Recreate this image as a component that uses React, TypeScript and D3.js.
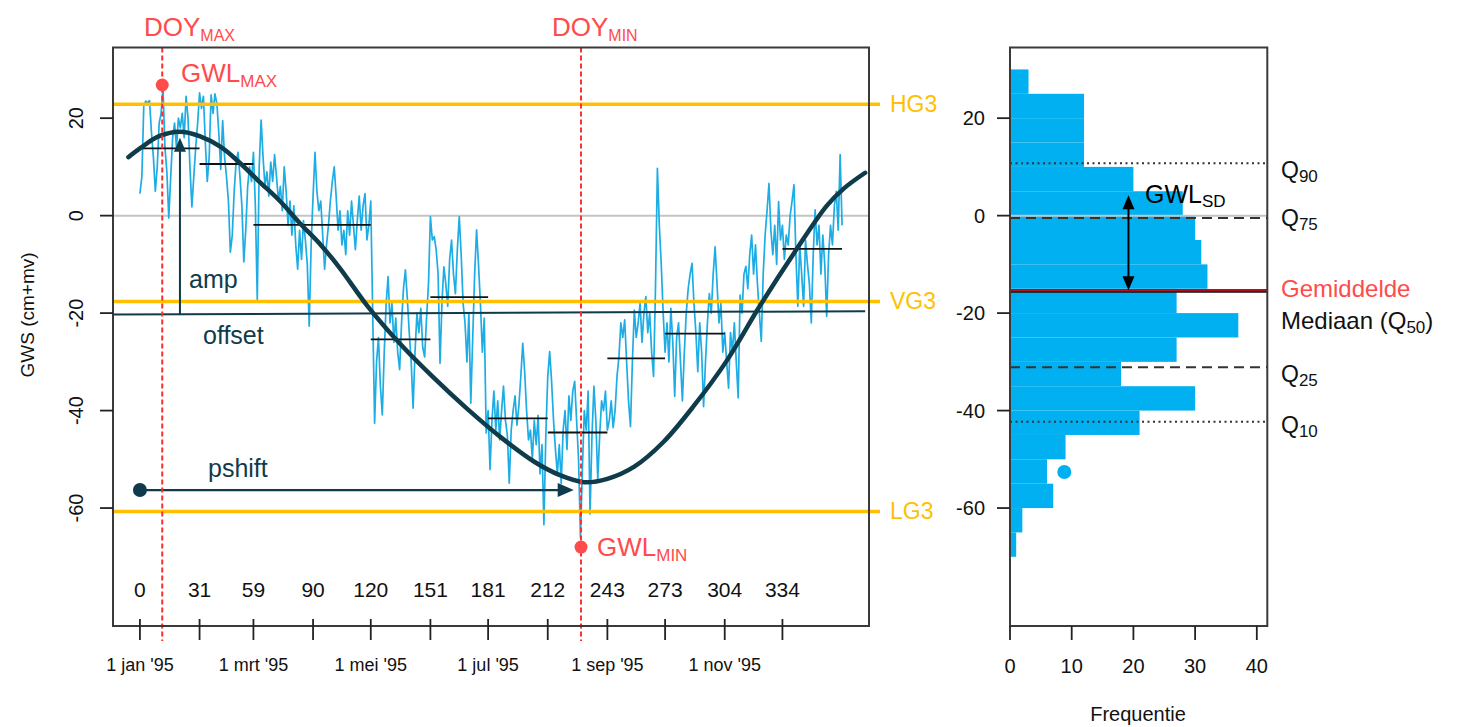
import React from "react";
import * as d3 from "d3";

// ---- data ----
const gwsDaily = [
  4.5, 8, 22.5, 23.5, 23.2, 23.6, 17, 12, 5, 10,
  19, 21, 26.2, 14, 9, -0.5, 8, 16, 19, 14,
  20, 18, 21, 16, 24.5, 20, 10, 1.8, 8, 14,
  19, 25.2, 22, 24.5, 15, 7, 12, 24.8, 21, 25,
  23, 17, 9.5, 19.5, 12, 8, 3, -7.5, -4, 5,
  11, 13, 8, 2, -9.5, -3, 6, 10, 7, 13,
  2, -17.3, 10, 19.6, 12, 6, 9, 4, 11, 7,
  12.5, 8, 3, 6, 1, 10, 5, -2, 3, -4,
  2, -6, -11, -3, -9, -1, -5, -10, -22.7, -6,
  4, 13, 5, 1, 3, -4, -11, -6, -2, 3,
  7, 10, 4, -3, 1, -6, -3, -8, 1, -4,
  3, -2, -7, -1, 4, -3, 2, 4.5, -5, -2,
  3, -20, -42.6, -30, -25, -35, -40.9, -28, -18, -12.5,
  -22, -18, -26, -21, -28, -31.6, -22, -15, -11.1, -17,
  -24, -30, -39.5, -28, -20, -24, -19, -27, -29, -21,
  -14, -0.2, -5, -4.3, -7, -12, -30.3, -18, -10.5, -14,
  -18.6, -9, -5, -12, -16, -7, -0.2, -8, -18, -22,
  -30, -20, -38.5, -25, -12, -2.9, -10, -18, -28, -21,
  -44.6, -40, -52.1, -42, -36, -44, -38, -46, -40, -35,
  -42, -45, -54.9, -44, -40, -37, -43, -39, -33, -26.2,
  -32, -40, -46, -44, -50, -42, -47, -41, -53, -47,
  -63.4, -45, -33, -27.9, -34, -42, -48, -53, -47, -55,
  -44, -40, -48, -37, -42, -36, -34, -42, -50, -66,
  -52, -40, -44, -36, -61.2, -45, -35, -42, -54.3, -45,
  -38, -40, -36, -44, -42, -38, -43.5, -40, -33, -29,
  -22, -25, -21.4, -30, -38, -43.3, -30, -19.4, -25, -22,
  -18, -26, -20, -16.6, -24, -20, -28, -33, -15, 9.7,
  -2, -10, -20, -28, -22, -30, -19, -26, -37.1, -25,
  -22, -30, -38, -28, -20, -15, -12, -9.8, -18, -24,
  -32, -22, -28, -39.2, -30, -22, -16, -20, -12, -6.4,
  -14, -22, -18, -28, -24, -30, -35.4, -24, -28, -22,
  -30, -37.4, -16.3, -20, -12, -10.4, -15, -8, -4, -12,
  -6, -14, -20, -25.8, -12, -4, 1, 6.6, -3, -8,
  -2, -10, 2.9, -5, -2, -9, -4, -6, 0, 3,
  6.3, -8, -18.6, -6, -12, -18.6, -5, -10, -14, -22,
  -8, 1.2, -6, -2, -12, -4, -10, -20.7, -8, -2,
  -6, 2, 5, -3, 12.5, -2,
];

const curveDays = [-6, 0, 10, 21, 31, 42, 52, 62, 73, 83, 94, 104, 118, 135, 152, 170, 188, 205, 218, 231, 243, 257, 272, 288, 305, 322, 340, 357, 366, 377];
const curveValues = [12.0, 13.8, 16.3, 17.2, 16.3, 14.1, 10.8, 7.0, 2.9, -1.5, -6.0, -10.8, -18.4, -26.2, -33.0, -39.6, -45.6, -50.5, -53.2, -54.7, -54.0, -51.5, -46.5, -39.0, -29.8, -18.7, -7.7, 2.0, 5.6, 8.8];

const monthStarts = [0, 31, 59, 90, 120, 151, 181, 212, 243, 273, 304, 334, 365];
const monthMeans = [13.8, 10.6, -1.9, -1.9, -25.4, -16.7, -41.6, -44.5, -29.3, -24.2, -17.6, -6.8];

const dayTicks = [0, 31, 59, 90, 120, 151, 181, 212, 243, 273, 304, 334];
const dateTickDays = [0, 59, 120, 181, 243, 304];
const dateTickLabels = ["1 jan '95", "1 mrt '95", "1 mei '95", "1 jul '95", "1 sep '95", "1 nov '95"];
const yTicks = [20, 0, -20, -40, -60];

const thresholdNames = ["HG3", "VG3", "LG3"];
const thresholdValues = [22.85, -17.6, -60.7];

const offsetDays = [-14, 377];
const offsetValues = [-20.3, -19.6];
const ampDay = 20.8;
const ampTop = 16.0;
const pshiftStartDay = 0;
const pshiftEndDay = 225.5;
const pshiftLevel = -56.3;

const doyMax = 11.6;
const doyMin = 229.3;
const gwlMax = 26.8;
const gwlMin = -68;

const binLower = [-70, -65, -60, -55, -50, -45, -40, -35, -30, -25, -20, -15, -10, -5, 0, 5, 10, 15, 20, 25];
const binCounts = [1, 2, 7, 6, 9, 21, 30, 18, 27, 37, 27, 32, 31, 30, 28, 20, 12, 12, 12, 3];
const binWidth = 5;
const freqTicks = [0, 10, 20, 30, 40];

const q90 = 10.75;
const q75 = -0.5;
const q50 = -15.6;
const q25 = -31.1;
const q10 = -42.3;
const meanVal = -15.3;
const sdVal = 19.5;
const sdArrowCount = 19.2;
const bluePointCount = 8.8;
const bluePointValue = -52.6;

// ---- styles ----
const FONT = "'Liberation Sans', Arial, sans-serif";
const BLUE_LINE = "#1DADE4";
const BLUE_BAR = "#00B0F0";
const DARK = "#0F3B4A";
const ORANGE = "#FFC000";
const RED = "#FF2D2D";
const RED_TEXT = "#FF4B4B";
const MEAN_RED = "#B0101E";
const GREY = "#C4C4C4";
const BOX = "#3a3a3a";

export default function App() {
  const xL = d3.scaleLinear().domain([-14, 379]).range([113, 869]);
  const y = d3.scaleLinear().domain([-84.2, 34.5]).range([626, 47.5]);
  const xR = d3.scaleLinear().domain([0, 41.7]).range([1010, 1267.3]);

  const L = { x0: 113, x1: 869, y0: 47.5, y1: 626 };
  const R = { x0: 1010, x1: 1267.3 };

  const seriesLine = d3
    .line<number>()
    .x((_, i) => xL(i))
    .y((v) => y(v));

  const curveLine = d3
    .line<number>()
    .x((_, i) => xL(curveDays[i]))
    .y((v) => y(v))
    .curve(d3.curveCatmullRom.alpha(0.5));

  const arrowUp = (x: number, yTip: number, len = 14, hw = 6) =>
    `${x},${yTip} ${x - hw},${yTip + len} ${x + hw},${yTip + len}`;
  const arrowDown = (x: number, yTip: number, len = 14, hw = 6) =>
    `${x},${yTip} ${x - hw},${yTip - len} ${x + hw},${yTip - len}`;
  const arrowRight = (xTip: number, yv: number, len = 16, hw = 7) =>
    `${xTip},${yv} ${xTip - len},${yv - hw} ${xTip - len},${yv + hw}`;

  const ampX = xL(ampDay);
  const ampBase = y(offsetValues[0] + ((offsetValues[1] - offsetValues[0]) * (ampDay - offsetDays[0])) / (offsetDays[1] - offsetDays[0]));
  const pY = y(pshiftLevel);
  const pX0 = xL(pshiftStartDay);
  const pX1 = xL(pshiftEndDay);

  const sdX = xR(sdArrowCount);
  const sdTop = y(meanVal + sdVal);
  const sdBot = y(meanVal);

  const qLines = [
    { v: q90, dash: "2,3.5", name: "Q", sub: "90", base: 178 },
    { v: q75, dash: "10,6", name: "Q", sub: "75", base: 226 },
    { v: q25, dash: "10,6", name: "Q", sub: "25", base: 382 },
    { v: q10, dash: "2,3.5", name: "Q", sub: "10", base: 433 },
  ];

  return (
    <div style={{ position: "absolute", left: 0, top: 0 }}>
      <svg width={1462} height={727} style={{ display: "block", background: "#fff" }} fontFamily={FONT}>
        {/* ===== LEFT PANEL ===== */}
        <line x1={L.x0} x2={L.x1} y1={y(0)} y2={y(0)} stroke={GREY} strokeWidth={2} />

        <path d={seriesLine(gwsDaily) || ""} fill="none" stroke={BLUE_LINE} strokeWidth={1.7} strokeLinejoin="round" />

        {monthMeans.map((m, i) => (
          <line
            key={"mm" + i}
            x1={xL(monthStarts[i])}
            x2={xL(monthStarts[i + 1])}
            y1={y(m)}
            y2={y(m)}
            stroke="#111"
            strokeWidth={1.8}
          />
        ))}

        {thresholdValues.map((v, i) => (
          <g key={"th" + i}>
            <line x1={L.x0} x2={880} y1={y(v)} y2={y(v)} stroke={ORANGE} strokeWidth={3.5} />
            <text x={890} y={y(v) + 8} fontSize={23} fill={ORANGE}>
              {thresholdNames[i]}
            </text>
          </g>
        ))}

        <line
          x1={xL(offsetDays[0])}
          x2={xL(offsetDays[1])}
          y1={y(offsetValues[0])}
          y2={y(offsetValues[1])}
          stroke={DARK}
          strokeWidth={2}
        />

        <path d={curveLine(curveValues) || ""} fill="none" stroke={DARK} strokeWidth={4.5} strokeLinecap="round" />

        <line x1={ampX} x2={ampX} y1={ampBase} y2={y(ampTop) + 10} stroke={DARK} strokeWidth={2} />
        <polygon points={arrowUp(ampX, y(ampTop))} fill={DARK} />

        <line x1={pX0} x2={pX1 - 10} y1={pY} y2={pY} stroke={DARK} strokeWidth={2.2} />
        <polygon points={arrowRight(pX1, pY)} fill={DARK} />
        <circle cx={pX0} cy={pY} r={7} fill={DARK} />

        <text x={189} y={288} fontSize={25} fill={DARK}>amp</text>
        <text x={203} y={344} fontSize={25} fill={DARK}>offset</text>
        <text x={208} y={477} fontSize={25} fill={DARK}>pshift</text>

        {[doyMax, doyMin].map((d, i) => (
          <line key={"doy" + i} x1={xL(d)} x2={xL(d)} y1={L.y0} y2={641} stroke={RED} strokeWidth={2} strokeDasharray="5,3" />
        ))}

        <circle cx={xL(doyMax)} cy={y(gwlMax)} r={6.5} fill={RED_TEXT} />
        <circle cx={xL(doyMin)} cy={y(gwlMin)} r={6.5} fill={RED_TEXT} />

        <text x={144} y={36} fontSize={26} fill={RED_TEXT}>
          DOY<tspan fontSize={16} dy={5}>MAX</tspan>
        </text>
        <text x={552} y={36} fontSize={26} fill={RED_TEXT}>
          DOY<tspan fontSize={16} dy={5}>MIN</tspan>
        </text>
        <text x={181} y={82} fontSize={26} fill={RED_TEXT}>
          GWL<tspan fontSize={17} dy={5}>MAX</tspan>
        </text>
        <text x={597} y={556} fontSize={26} fill={RED_TEXT}>
          GWL<tspan fontSize={17} dy={5}>MIN</tspan>
        </text>

        {dayTicks.map((d) => (
          <text key={"dn" + d} x={xL(d)} y={597} fontSize={21} textAnchor="middle" fill="#111">
            {d}
          </text>
        ))}

        <rect x={L.x0} y={L.y0} width={L.x1 - L.x0} height={L.y1 - L.y0} fill="none" stroke={BOX} strokeWidth={2} />

        {dayTicks.map((d) => (
          <line key={"xt" + d} x1={xL(d)} x2={xL(d)} y1={619} y2={640} stroke="#222" strokeWidth={1.8} />
        ))}
        {dateTickDays.map((d, i) => (
          <text key={"dt" + d} x={xL(d)} y={671} fontSize={18} textAnchor="middle" fill="#111">
            {dateTickLabels[i]}
          </text>
        ))}

        {yTicks.map((v) => (
          <g key={"yt" + v}>
            <line x1={100} x2={L.x0} y1={y(v)} y2={y(v)} stroke="#222" strokeWidth={1.8} />
            <text transform={`translate(83,${y(v)}) rotate(-90)`} fontSize={20} textAnchor="middle" fill="#111">
              {v}
            </text>
          </g>
        ))}
        <text transform={`translate(34,315) rotate(-90)`} fontSize={19} textAnchor="middle" fill="#111">
          GWS (cm+mv)
        </text>

        {/* ===== RIGHT PANEL ===== */}
        {binLower.map((lo, i) => (
          <rect
            key={"bin" + i}
            x={xR(0)}
            y={y(lo + binWidth)}
            width={xR(binCounts[i]) - xR(0)}
            height={y(lo) - y(lo + binWidth)}
            fill={BLUE_BAR}
          />
        ))}
        <line x1={R.x0} x2={R.x1} y1={y(0)} y2={y(0)} stroke={GREY} strokeWidth={2} />

        {qLines.map((q, i) => (
          <g key={"q" + i}>
            <line x1={R.x0} x2={R.x1} y1={y(q.v)} y2={y(q.v)} stroke="#333" strokeWidth={2} strokeDasharray={q.dash} />
            <text x={1281} y={q.base} fontSize={23} fill="#111">
              {q.name}
              <tspan fontSize={17} dy={4}>{q.sub}</tspan>
            </text>
          </g>
        ))}

        <line x1={R.x0} x2={R.x1} y1={y(q50)} y2={y(q50)} stroke="#111" strokeWidth={2} />
        <line x1={R.x0} x2={R.x1} y1={y(meanVal)} y2={y(meanVal)} stroke={MEAN_RED} strokeWidth={2.6} />
        <text x={1281} y={297} fontSize={24} fill={RED_TEXT}>Gemiddelde</text>
        <text x={1281} y={329} fontSize={24} fill="#111">
          Mediaan (Q<tspan fontSize={17} dy={4}>50</tspan>
          <tspan dy={-4}>)</tspan>
        </text>

        <line x1={sdX} x2={sdX} y1={sdTop + 10} y2={sdBot - 10} stroke="#000" strokeWidth={2} />
        <polygon points={arrowUp(sdX, sdTop)} fill="#000" />
        <polygon points={arrowDown(sdX, sdBot)} fill="#000" />
        <text x={1145} y={203} fontSize={25} fill="#000">
          GWL<tspan fontSize={17} dy={4}>SD</tspan>
        </text>

        <circle cx={xR(bluePointCount)} cy={y(bluePointValue)} r={7} fill={BLUE_BAR} />

        <rect x={R.x0} y={L.y0} width={R.x1 - R.x0} height={L.y1 - L.y0} fill="none" stroke={BOX} strokeWidth={2} />

        {yTicks.map((v) => (
          <g key={"ryt" + v}>
            <line x1={997} x2={R.x0} y1={y(v)} y2={y(v)} stroke="#222" strokeWidth={1.8} />
            <text x={985} y={y(v) + 7} fontSize={20} textAnchor="end" fill="#111">
              {v}
            </text>
          </g>
        ))}

        {freqTicks.map((t) => (
          <g key={"fx" + t}>
            <line x1={xR(t)} x2={xR(t)} y1={626} y2={640} stroke="#222" strokeWidth={1.8} />
            <text x={xR(t)} y={673} fontSize={20} textAnchor="middle" fill="#111">
              {t}
            </text>
          </g>
        ))}
        <text x={1138} y={721} fontSize={20} textAnchor="middle" fill="#111">
          Frequentie
        </text>
      </svg>
    </div>
  );
}
